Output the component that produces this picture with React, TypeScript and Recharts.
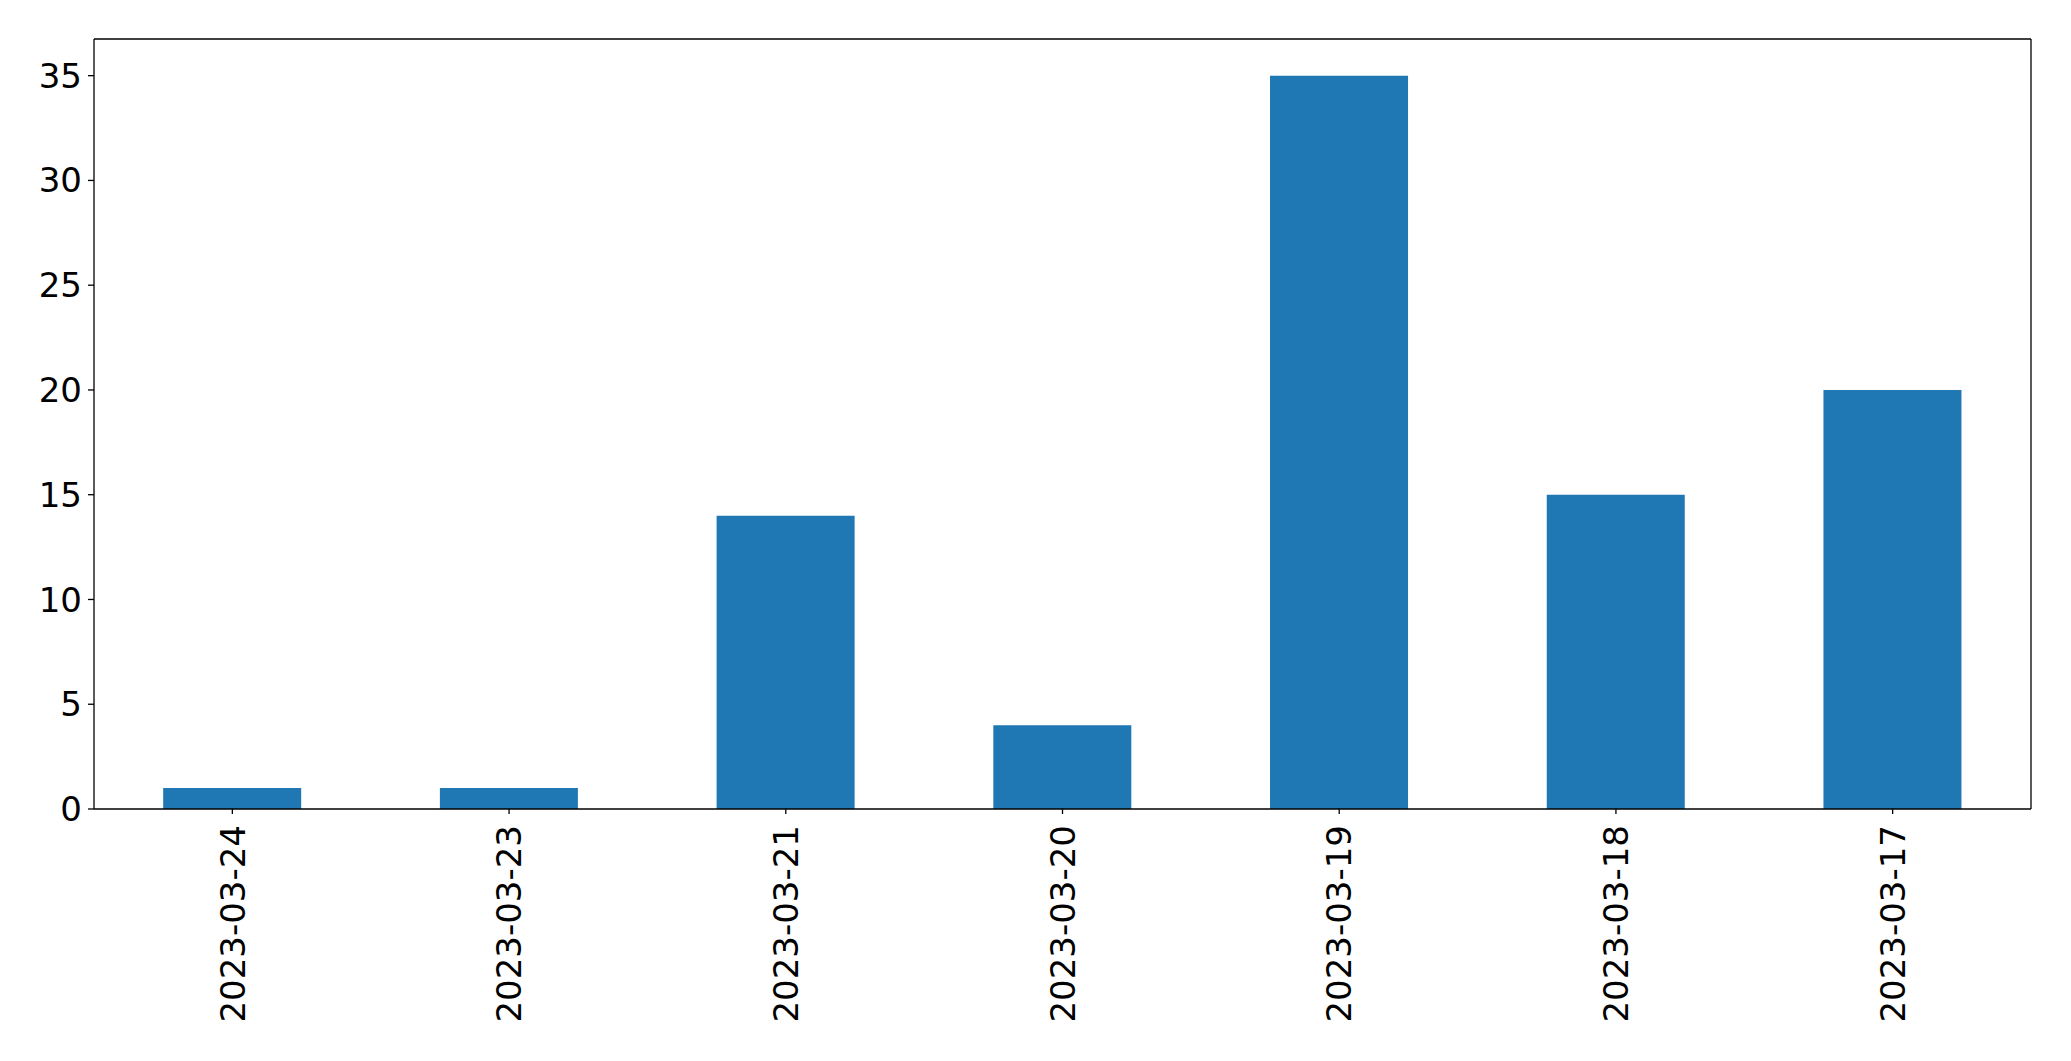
import { BarChart, Bar, XAxis, YAxis, CartesianGrid } from "recharts"

const dates = [
  "2023-03-24",
  "2023-03-23",
  "2023-03-21",
  "2023-03-20",
  "2023-03-19",
  "2023-03-18",
  "2023-03-17",
]
const counts = [1, 1, 14, 4, 35, 15, 20]
const yTicks = [0, 5, 10, 15, 20, 25, 30, 35]

const data = dates.map((d, i) => ({ date: d, count: counts[i] }))

const FONT = "'DejaVu Sans', sans-serif"

function DateTick(props: any) {
  const { x, y, payload } = props
  const ay = y + 11
  return (
    <text
      x={x}
      y={ay}
      dy="0.36em"
      transform={`rotate(-90, ${x}, ${ay})`}
      textAnchor="end"
      fontSize={34}
      fontFamily={FONT}
      fill="#000"
    >
      {payload.value}
    </text>
  )
}

export default function App() {
  return (
    <div style={{ position: "absolute", left: 0, top: 0, background: "#fff" }}>
      <BarChart
        width={2071}
        height={1061}
        data={data}
        margin={{ top: 39, right: 40, bottom: 0, left: 0 }}
        barCategoryGap="25%"
      >
        {/* top and right spines of the frame */}
        <CartesianGrid
          stroke="#000"
          strokeWidth={1.3}
          horizontalCoordinatesGenerator={({ offset }: any) => [offset.top]}
          verticalCoordinatesGenerator={({ offset }: any) => [offset.left + offset.width]}
        />
        <XAxis
          dataKey="date"
          height={252}
          interval={0}
          tickSize={5}
          tickMargin={0}
          axisLine={{ stroke: "#000", strokeWidth: 1.3 }}
          tickLine={{ stroke: "#000", strokeWidth: 1.3 }}
          tick={<DateTick />}
        />
        <YAxis
          width={94}
          domain={[0, 36.75]}
          ticks={yTicks}
          interval={0}
          tickSize={6}
          tickMargin={6}
          axisLine={{ stroke: "#000", strokeWidth: 1.3 }}
          tickLine={{ stroke: "#000", strokeWidth: 1.3 }}
          tick={{ fontSize: 34, fontFamily: FONT, fill: "#000" }}
        />
        <Bar dataKey="count" fill="#1f77b4" isAnimationActive={false} />
      </BarChart>
    </div>
  )
}
